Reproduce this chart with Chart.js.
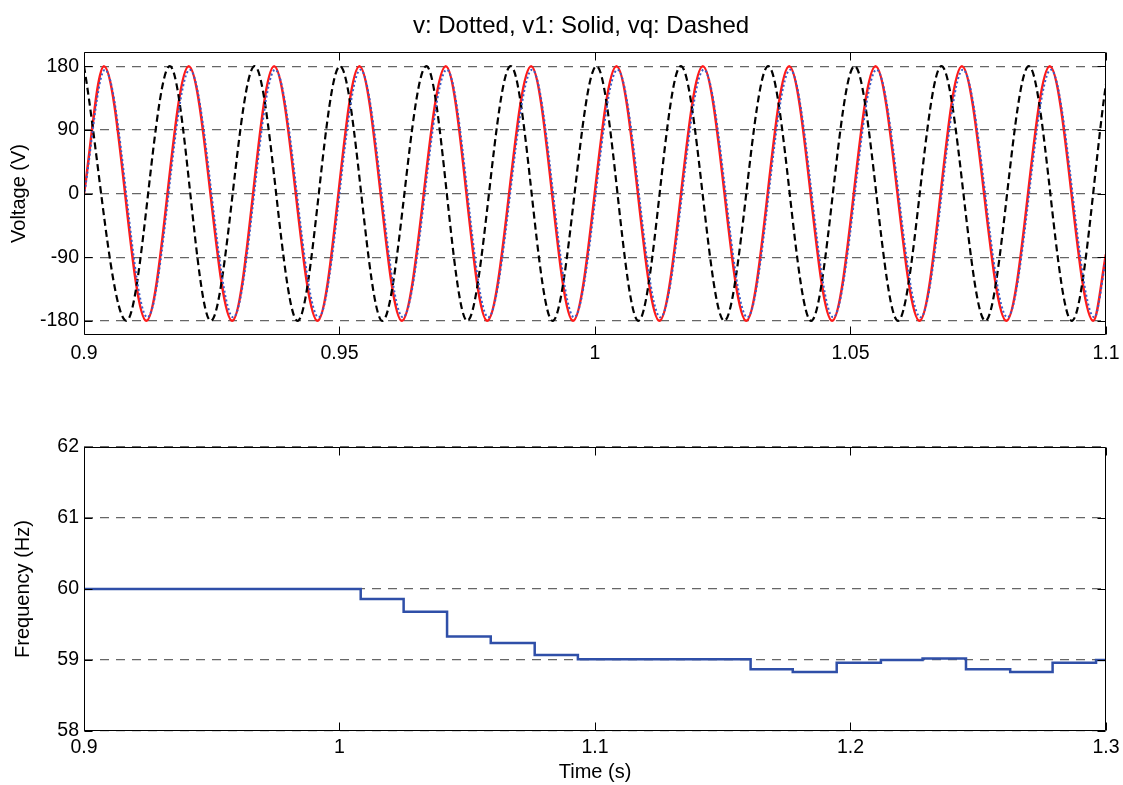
<!DOCTYPE html>
<html>
<head>
<meta charset="utf-8">
<script src="https://cdn.jsdelivr.net/npm/chart.js@4.4.0/dist/chart.umd.min.js"></script>
<style>
  html, body { margin: 0; padding: 0; background: #fff; }
  canvas { position: absolute; left: 0; }
  #voltChart { top: 0; }
  #freqChart { top: 390px; }
</style>
</head>
<body>
<canvas id="voltChart" width="1123" height="390"></canvas>
<canvas id="freqChart" width="1123" height="395"></canvas>
<script>
"use strict";

// upper plot: peaks / troughs of each waveform (s, V)
var titleText = 'v: Dotted, v1: Solid, vq: Dashed';

var vqTime = [0.9, 0.9083, 0.9168, 0.9248, 0.9334, 0.9418, 0.9501, 0.9584, 0.967, 0.975,
    0.9835, 0.9917, 1.0003, 1.0085, 1.0168, 1.0253, 1.0339, 1.0423, 1.0508, 1.0593,
    1.0678, 1.0764, 1.0849, 1.0933, 1.1];
var vqVolt = [180, -180, 180, -180, 180, -180, 180, -180, 180, -180,
    180, -180, 180, -180, 180, -180, 180, -180, 180, -180,
    180, -180, 180, -180, 155];

var v1Time = [0.9, 0.9039, 0.9122, 0.9205, 0.929, 0.9372, 0.9457, 0.9539, 0.9622, 0.9708,
    0.9789, 0.9875, 0.9957, 1.0042, 1.0126, 1.0211, 1.0296, 1.038, 1.0464, 1.0549,
    1.0635, 1.0718, 1.0805, 1.089, 1.0975, 1.1];
var v1Volt = [0, 180, -180, 180, -180, 180, -180, 180, -180, 180,
    -180, 180, -180, 180, -180, 180, -180, 180, -180, 180,
    -180, 180, -180, 180, -180, -86];

var vTime = [0.9, 0.9041, 0.9124, 0.9207, 0.9292, 0.9374, 0.9459, 0.9541, 0.9624, 0.971,
    0.9791, 0.9877, 0.9959, 1.0044, 1.0128, 1.0213, 1.0298, 1.0382, 1.0466, 1.0551,
    1.0637, 1.072, 1.0807, 1.0892, 1.0977, 1.1];
var vVolt = [-3, 175, -175, 175, -175, 175, -175, 175, -175, 175,
    -175, 175, -175, 175, -175, 175, -175, 175, -175, 175,
    -175, 175, -175, 175, -175, -92];

var voltXTicks = [0.9, 0.95, 1, 1.05, 1.1];
var voltYTicks = [-180, -90, 0, 90, 180];

// lower plot: frequency estimate, each value holds from its time on (s, Hz)
var freqTime = [0.9, 1.0083, 1.0251, 1.0421, 1.0592, 1.0764, 1.0933, 1.1609, 1.1774,
    1.1946, 1.2119, 1.2282, 1.2452, 1.2625, 1.2791, 1.2961, 1.3];
var freqHz = [60, 59.86, 59.68, 59.33, 59.24, 59.07, 59.01, 58.87, 58.83,
    58.96, 59.0, 59.02, 58.87, 58.83, 58.96, 59.0, 59.0];

var freqXTicks = [0.9, 1, 1.1, 1.2, 1.3];
var freqYTicks = [58, 59, 60, 61, 62];

var FONT = 'Liberation Sans, Arial, sans-serif';

function pairs(xs, ys) {
    return xs.map(function (x, i) { return { x: x, y: ys[i] }; });
}

function fixedTicks(list) {
    return function (scale) {
        scale.ticks = list.map(function (v) { return { value: v }; });
    };
}

// matlab style box with inward tick marks
var framePlugin = {
    id: 'frame',
    afterDraw: function (chart) {
        var ctx = chart.ctx, a = chart.chartArea;
        var xs = chart.scales.x, ys = chart.scales.y;
        var L = Math.round(a.left) + 0.5, R = Math.round(a.right) - 0.5;
        var T = Math.round(a.top) + 0.5, B = Math.round(a.bottom) - 0.5;
        ctx.save();
        ctx.strokeStyle = '#000';
        ctx.lineWidth = 1;
        ctx.beginPath();
        ctx.rect(L, T, R - L, B - T);
        xs.ticks.forEach(function (t) {
            var px = Math.round(xs.getPixelForValue(t.value)) + 0.5;
            ctx.moveTo(px, B); ctx.lineTo(px, B - 8);
            ctx.moveTo(px, T); ctx.lineTo(px, T + 8);
        });
        ys.ticks.forEach(function (t) {
            var py = Math.round(ys.getPixelForValue(t.value)) + 0.5;
            ctx.moveTo(L, py); ctx.lineTo(L + 8, py);
            ctx.moveTo(R, py); ctx.lineTo(R - 8, py);
        });
        ctx.stroke();
        ctx.restore();
    }
};

var titlePlugin = {
    id: 'plotTitle',
    afterDraw: function (chart) {
        var ctx = chart.ctx;
        ctx.save();
        ctx.fillStyle = '#000';
        ctx.font = '24px ' + FONT;
        ctx.textAlign = 'center';
        ctx.textBaseline = 'alphabetic';
        ctx.fillText(titleText, 581, 33);
        ctx.restore();
    }
};

function xAxis(min, max, ticks, height, pad, title) {
    return {
        type: 'linear',
        min: min,
        max: max,
        afterBuildTicks: fixedTicks(ticks),
        afterFit: function (s) { s.height = height; },
        grid: { display: false },
        border: { display: false },
        ticks: {
            color: '#000',
            padding: pad,
            maxRotation: 0,
            autoSkip: false,
            font: { family: FONT, size: 19.5 },
            callback: function (v) { return String(v); }
        },
        title: title
    };
}

function yAxis(min, max, ticks, label, titlePad) {
    return {
        type: 'linear',
        min: min,
        max: max,
        afterBuildTicks: fixedTicks(ticks),
        afterFit: function (s) { s.width = 84; },
        grid: {
            color: '#666',
            lineWidth: 1.2,
            drawTicks: false,
            borderDash: [9, 7]
        },
        border: { display: false, dash: [9, 7] },
        ticks: {
            color: '#000',
            padding: 5,
            font: { family: FONT, size: 19.5 },
            callback: function (v) { return String(v); }
        },
        title: {
            display: true,
            text: label,
            color: '#000',
            font: { family: FONT, size: 20 },
            padding: { top: titlePad, bottom: 0 }
        }
    };
}

new Chart(document.getElementById('voltChart'), {
    type: 'line',
    data: {
        datasets: [{
            label: 'v',
            data: pairs(vTime, vVolt),
            borderColor: '#3a5bc8',
            borderWidth: 2,
            borderDash: [2, 2.5],
            pointRadius: 0,
            fill: false,
            cubicInterpolationMode: 'monotone'
        }, {
            label: 'vq',
            data: pairs(vqTime, vqVolt),
            borderColor: '#000',
            borderWidth: 2.2,
            borderDash: [7, 4],
            pointRadius: 0,
            fill: false,
            cubicInterpolationMode: 'monotone'
        }, {
            label: 'v1',
            data: pairs(v1Time, v1Volt),
            borderColor: '#ff1a1a',
            borderWidth: 2.5,
            pointRadius: 0,
            fill: false,
            cubicInterpolationMode: 'monotone'
        }]
    },
    options: {
        responsive: false,
        animation: false,
        layout: { padding: { top: 52, right: 17, left: 0, bottom: 0 } },
        plugins: { legend: { display: false }, tooltip: { enabled: false } },
        scales: {
            x: xAxis(0.9, 1.1, voltXTicks, 55, -1, { display: false }),
            y: yAxis(-200, 200, voltYTicks, 'Voltage (V)', 7)
        }
    },
    plugins: [framePlugin, titlePlugin]
});

new Chart(document.getElementById('freqChart'), {
    type: 'line',
    data: {
        datasets: [{
            label: 'f',
            data: pairs(freqTime, freqHz),
            borderColor: '#2f4fa8',
            borderWidth: 2.5,
            pointRadius: 0,
            fill: false,
            stepped: 'before'
        }]
    },
    options: {
        responsive: false,
        animation: false,
        layout: { padding: { top: 57, right: 17, left: 0, bottom: 0 } },
        plugins: { legend: { display: false }, tooltip: { enabled: false } },
        scales: {
            x: xAxis(0.9, 1.3, freqXTicks, 54, -3, {
                display: true,
                text: 'Time (s)',
                color: '#000',
                font: { family: FONT, size: 20 },
                padding: { top: 0, bottom: 1 }
            }),
            y: yAxis(58, 62, freqYTicks, 'Frequency (Hz)', 11)
        }
    },
    plugins: [framePlugin]
});
</script>
</body>
</html>
